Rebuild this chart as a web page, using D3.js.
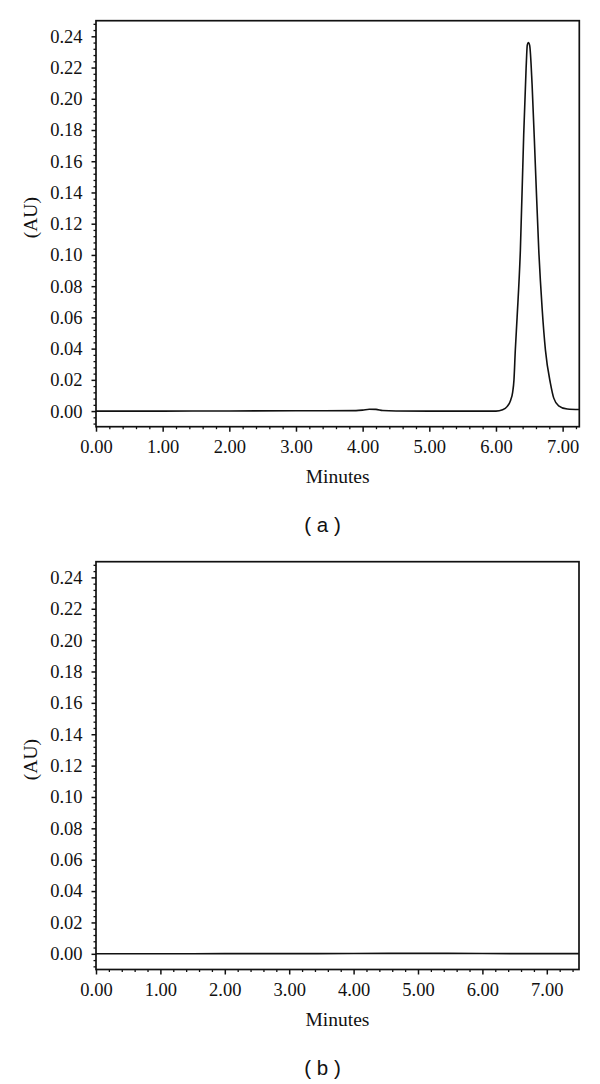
<!DOCTYPE html>
<html>
<head>
<meta charset="utf-8">
<script src="https://cdn.jsdelivr.net/npm/d3@7"></script>
<style>
html,body{margin:0;padding:0;background:#fff;}
svg{display:block;}
</style>
</head>
<body>
<svg id="chart" width="600" height="1084"></svg>
<script>
// ---- data ----
const timeA = [0, 1.0, 2.0, 3.0, 3.9, 4.0, 4.1, 4.2, 4.3, 4.5, 5.0, 5.5, 6.0, 6.1, 6.17, 6.22, 6.25, 6.27, 6.29, 6.317, 6.366, 6.416, 6.452, 6.47, 6.486, 6.506, 6.542, 6.592, 6.642, 6.692, 6.742, 6.817, 6.867, 6.94, 7.07, 7.25];
const auA   = [0.0000, 0.0000, 0.0001, 0.0002, 0.0003, 0.0006, 0.0012, 0.0011, 0.0004, 0.0001, 0.0000, 0.0000, 0.0000, 0.0008, 0.003, 0.007, 0.012, 0.020, 0.039, 0.060, 0.103, 0.177, 0.2195, 0.2345, 0.236, 0.234, 0.209, 0.156, 0.103, 0.066, 0.039, 0.0178, 0.0083, 0.0034, 0.0013, 0.0010];
const timeB = [0, 1.0, 2.0, 3.0, 4.0, 5.0, 6.0, 7.0, 7.5];
const auB   = [0.0000, 0.0000, 0.0001, 0.0001, 0.0002, 0.0003, 0.0002, 0.0001, 0.0001];
const yTickValues = [0.00, 0.02, 0.04, 0.06, 0.08, 0.10, 0.12, 0.14, 0.16, 0.18, 0.20, 0.22, 0.24];
const xTickValues = [0, 1, 2, 3, 4, 5, 6, 7];
const panelLabels = ["( a )", "( b )"];
const xTitle = "Minutes";
const yTitle = "(AU)";

const panels = [
  {time: timeA, au: auA, xMax: 7.25, top: 20.7, bottom: 426.7, left: 96, right: 579.3, label: panelLabels[0]},
  {time: timeB, au: auB, xMax: 7.5,  top: 561.7, bottom: 969.5, left: 96, right: 579, label: panelLabels[1]}
];

const svg = d3.select("#chart");
const serif = "'Liberation Serif', 'Times New Roman', serif";
const sans = "'Liberation Sans', Arial, sans-serif";
const ink = "#111";

panels.forEach(p => {
  const x = d3.scaleLinear().domain([0, p.xMax]).range([p.left, p.right]);
  const y = d3.scaleLinear().domain([-0.01, 0.25]).range([p.bottom, p.top]);
  const g = svg.append("g");

  // minor ticks
  const yMinor = d3.range(-0.008, 0.2501, 0.004).filter(v => Math.abs(Math.round(v / 0.02) * 0.02 - v) > 1e-6);
  const xMinor = d3.range(0, p.xMax + 1e-6, 0.2).filter(v => Math.abs(Math.round(v) - v) > 1e-6);

  g.append("g").attr("transform", `translate(${p.left},0)`)
    .call(d3.axisLeft(y).tickValues(yMinor).tickSize(2.5).tickFormat(""))
    .call(s => { s.select(".domain").remove(); s.selectAll("line").attr("stroke", ink).attr("stroke-width", 1.3); });
  g.append("g").attr("transform", `translate(0,${p.bottom})`)
    .call(d3.axisBottom(x).tickValues(xMinor).tickSize(2.5).tickFormat(""))
    .call(s => { s.select(".domain").remove(); s.selectAll("line").attr("stroke", ink).attr("stroke-width", 1.3); });

  // major ticks
  const ya = g.append("g").attr("transform", `translate(${p.left},0)`)
    .call(d3.axisLeft(y).tickValues(yTickValues).tickSize(4.5).tickPadding(9).tickFormat(d3.format(".2f")));
  ya.select(".domain").remove();
  ya.selectAll("line").attr("stroke", ink).attr("stroke-width", 1.5);
  ya.selectAll("text").attr("font-family", serif).attr("font-size", 18.5).attr("fill", ink);

  const xa = g.append("g").attr("transform", `translate(0,${p.bottom})`)
    .call(d3.axisBottom(x).tickValues(xTickValues).tickSize(5).tickPadding(8).tickFormat(d3.format(".2f")));
  xa.select(".domain").remove();
  xa.selectAll("line").attr("stroke", ink).attr("stroke-width", 1.5);
  xa.selectAll("text").attr("font-family", serif).attr("font-size", 18.5).attr("fill", ink);

  // frame
  g.append("rect")
    .attr("x", p.left).attr("y", p.top)
    .attr("width", p.right - p.left).attr("height", p.bottom - p.top)
    .attr("fill", "none").attr("stroke", ink).attr("stroke-width", 1.7);

  // trace
  const line = d3.line().x((d, i) => x(p.time[i])).y((d, i) => y(p.au[i])).curve(d3.curveMonotoneX);
  g.append("path").datum(p.au).attr("d", line)
    .attr("fill", "none").attr("stroke", ink).attr("stroke-width", 1.6).attr("stroke-linejoin", "round");

  // titles
  g.append("text").attr("x", (p.left + p.right) / 2).attr("y", p.bottom + 56.3)
    .attr("text-anchor", "middle").attr("font-family", serif).attr("font-size", 19.5).attr("fill", ink).text(xTitle);
  g.append("text").attr("transform", `translate(37,${(p.top + p.bottom) / 2 - 6}) rotate(-90)`)
    .attr("text-anchor", "middle").attr("font-family", serif).attr("font-size", 19.5).attr("fill", ink).text(yTitle);
  g.append("text").attr("x", 322.5).attr("y", p.bottom + 105.5)
    .attr("text-anchor", "middle").attr("font-family", sans).attr("font-size", 20.5).attr("fill", ink)
    .attr("xml:space", "preserve").text(p.label);
});
</script>
</body>
</html>
